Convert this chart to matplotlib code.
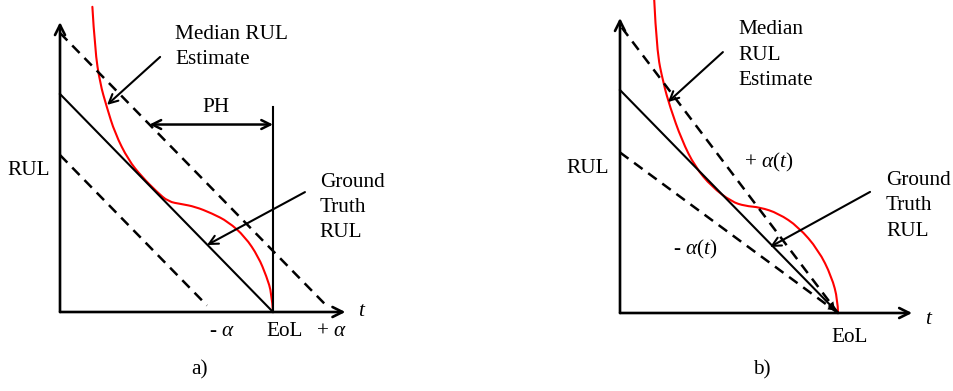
import matplotlib
matplotlib.use("Agg")
import matplotlib.pyplot as plt
from matplotlib.path import Path
from matplotlib.patches import PathPatch
import numpy as np

plt.rcParams["font.family"] = ["Liberation Serif", "DejaVu Serif"]
plt.rcParams["mathtext.fontset"] = "custom"
plt.rcParams["mathtext.rm"] = "Liberation Serif"
plt.rcParams["mathtext.it"] = "Liberation Serif:italic"

# ---- data (time normalised so that EoL = 100, initial true RUL = 100) ----
eol = 100
rul_start = 100
alpha_a = 28            # fixed +/- alpha bound width (panel a)
ph_start = 42           # prediction horizon start (panel a)

# median RUL estimate, panel a
est_a_t = [15.2, 16.4, 18.8, 21.9, 25.8, 32.1, 38.4, 45.4, 50.8, 57.1, 63.4,
           71.2, 79.0, 86.9, 93.1, 97.0, 99.4, 100.0]
est_a_r = [140.0, 120.2, 104.9, 94.2, 82.0, 69.7, 62.1, 55.2, 50.6, 49.5, 48.3,
           45.3, 41.4, 34.5, 25.4, 16.2, 8.6, 0.0]

# median RUL estimate, panel b
est_b_t = [15.7, 16.8, 19.9, 22.9, 28.3, 34.4, 42.1, 51.2, 57.3, 64.2, 72.6,
           81.8, 91.0, 97.1, 99.9, 100.0]
est_b_r = [140.4, 117.9, 103.0, 92.5, 77.6, 65.6, 56.6, 49.9, 48.0, 47.4, 44.7,
           38.7, 28.3, 16.3, 5.8, 0.0]

# alpha(t) cone, panel b: bounds at t = 0
cone_upper0 = 128
cone_lower0 = 72

# ---- layout (pixels) ----
W, H = 954, 391
fig = plt.figure(figsize=(W / 100, H / 100), dpi=100)

def panel(x0, x1, ox, oy, sx, sy):
    """Axes spanning figure pixels x0..x1 with data origin at pixel (ox, oy)."""
    ax = fig.add_axes([x0 / W, 0, (x1 - x0) / W, 1])
    ax.set_xlim(-(ox - x0) / sx, (x1 - ox) / sx)
    ax.set_ylim(-(H - oy) / sy, oy / sy)
    ax.axis("off")
    return ax

ax_a = panel(0, 477, 60, 312, 2.13, 2.18)
ax_b = panel(477, 954, 620, 313, 2.18, 2.23)

FS = 15.3
LS = 1.45
AX_LW = 1.9
GT_LW = 1.5
DASH = (0, (4.2, 2.8))
red = "#ff0000"

def draw_axes(ax, xmax, ymax):
    kw = dict(arrowstyle="->", lw=AX_LW, color="black", mutation_scale=18,
              shrinkA=0, shrinkB=0)
    ax.annotate("", xy=(0, ymax), xytext=(0, 0), arrowprops=kw)
    ax.annotate("", xy=(xmax, 0), xytext=(0, 0), arrowprops=kw)

def pointer(ax, start, end):
    ax.annotate("", xy=end, xytext=start,
                arrowprops=dict(arrowstyle="->", lw=1.5, color="black",
                                mutation_scale=16, shrinkA=0, shrinkB=0))

def smooth_curve(ax, xs, ys, **kw):
    """Quadratic Bezier chain using the points as control points."""
    pts = np.column_stack([xs, ys])
    verts = [pts[0]]
    codes = [Path.MOVETO]
    for i in range(1, len(pts) - 1):
        end = pts[i + 1] if i == len(pts) - 2 else (pts[i] + pts[i + 1]) / 2
        verts += [pts[i], end]
        codes += [Path.CURVE3, Path.CURVE3]
    ax.add_patch(PathPatch(Path(verts, codes), fill=False, capstyle="round",
                           joinstyle="round", **kw))

# ================= panel a =================
ax = ax_a
draw_axes(ax, 134, 133)
t = np.array([0, eol])
ax.plot(t, rul_start - t, color="black", lw=GT_LW)
ax.plot([0, rul_start + alpha_a - 2], [rul_start + alpha_a, 2], color="black",
        lw=1.8, ls=DASH)
ax.plot([0, rul_start - alpha_a - 3], [rul_start - alpha_a, 3], color="black",
        lw=1.8, ls=DASH)
ax.plot([eol, eol], [0, 94], color="black", lw=1.5)
ax.annotate("", xy=(ph_start, 86), xytext=(eol, 86),
            arrowprops=dict(arrowstyle="<->", lw=1.8, color="black",
                            mutation_scale=16, shrinkA=0, shrinkB=0))
smooth_curve(ax, est_a_t, est_a_r, edgecolor=red, lw=1.5)

ax.text((ph_start + eol) / 2 + 2, 94, "PH", fontsize=FS, ha="center", va="center")
ax.text(54, 121.6, "Median RUL\nEstimate", fontsize=FS, ha="left", va="center",
        linespacing=LS)
pointer(ax, (47, 117), (22.1, 95))
ax.text(122, 48, "Ground\nTruth\nRUL", fontsize=FS, ha="left", va="center",
        linespacing=LS)
pointer(ax, (115, 55), (69, 30.7))
ax.text(-14.6, 65, "RUL", fontsize=FS, ha="center", va="center")
ax.text(142, 0, r"$t$", fontsize=FS, ha="center", va="center")
ax.text(76, -9, r"- $\alpha$", fontsize=FS, ha="center", va="center")
ax.text(105.6, -9, "EoL", fontsize=FS, ha="center", va="center")
ax.text(127.2, -9, r"+ $\alpha$", fontsize=FS, ha="center", va="center")
ax.text(65.7, -26.6, "a)", fontsize=FS, ha="center", va="center")

# ================= panel b =================
ax = ax_b
draw_axes(ax, 134, 132.3)
head = dict(arrowstyle="-|>", lw=0, color="black", mutation_scale=12,
            shrinkA=0, shrinkB=0)
ax.plot([0, eol], [rul_start, 0], color="black", lw=GT_LW)
ax.plot([0.8, eol], [cone_upper0, 0], color="black", lw=1.8, ls=DASH)
ax.plot([0, eol], [cone_lower0, 0], color="black", lw=1.8, ls=DASH)
for r0 in (rul_start, cone_upper0, cone_lower0):
    frac = 0.06
    ax.annotate("", xy=(eol - 1.5, r0 * 1.5 / eol),
                xytext=(eol * (1 - frac), r0 * frac), arrowprops=head)
smooth_curve(ax, est_b_t, est_b_r, edgecolor=red, lw=1.5)

ax.text(54.1, 115.6, "Median\nRUL\nEstimate", fontsize=FS, ha="left", va="center",
        linespacing=LS)
pointer(ax, (47.2, 117), (22, 94.6))
ax.text(68.3, 67.3, r"+ $\alpha(t)$", fontsize=FS, ha="center", va="center")
ax.text(34.4, 28.3, r"- $\alpha(t)$", fontsize=FS, ha="center", va="center")
ax.text(122, 48, "Ground\nTruth\nRUL", fontsize=FS, ha="left", va="center",
        linespacing=LS)
pointer(ax, (114.7, 54.3), (68.8, 29.6))
ax.text(-14.7, 65, "RUL", fontsize=FS, ha="center", va="center")
ax.text(142, -3, r"$t$", fontsize=FS, ha="center", va="center")
ax.text(105.5, -10.8, "EoL", fontsize=FS, ha="center", va="center")
ax.text(65, -25.6, "b)", fontsize=FS, ha="center", va="center")

fig.savefig("out.png", dpi=100)
